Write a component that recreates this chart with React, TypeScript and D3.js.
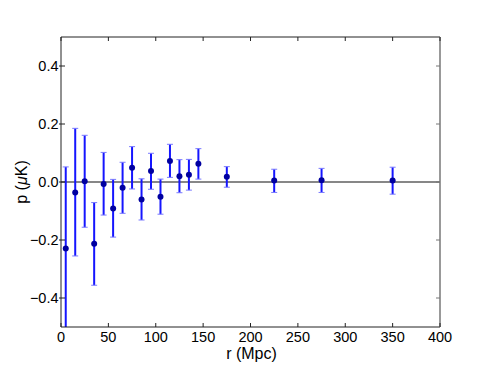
import React, { useEffect, useRef } from 'react'
import * as d3 from 'd3'

const rValues = [5, 15, 25, 35, 45, 55, 65, 75, 85, 95, 105, 115, 125, 135, 145, 175, 225, 275, 350]
const pValues = [-0.229, -0.036, 0.003, -0.213, -0.007, -0.091, -0.020, 0.049, -0.060, 0.038, -0.051, 0.072, 0.020, 0.025, 0.063, 0.018, 0.005, 0.006, 0.005]
const pUpper = [0.052, 0.185, 0.161, -0.071, 0.102, 0.009, 0.068, 0.122, 0.011, 0.099, 0.010, 0.130, 0.077, 0.078, 0.115, 0.053, 0.044, 0.047, 0.051]
const pLower = [-0.62, -0.255, -0.156, -0.356, -0.114, -0.190, -0.108, -0.024, -0.131, -0.025, -0.111, 0.016, -0.037, -0.028, 0.010, -0.018, -0.036, -0.036, -0.042]
const xTicks = [0, 50, 100, 150, 200, 250, 300, 350, 400]
const yTicks = [-0.4, -0.2, 0.0, 0.2, 0.4]

export default function App() {
	const ref = useRef<SVGSVGElement>(null)

	useEffect(() => {
		const svg = d3.select(ref.current)
		svg.selectAll('*').remove()

		const margin = { top: 37, left: 61, right: 50, bottom: 38 }
		const width = 490
		const height = 365
		const innerW = width - margin.left - margin.right
		const innerH = height - margin.top - margin.bottom

		const x = d3.scaleLinear().domain([0, 400]).range([margin.left, margin.left + innerW])
		const y = d3.scaleLinear().domain([-0.5, 0.5]).range([margin.top + innerH, margin.top])

		const font = 'Liberation Sans, Arial, sans-serif'

		const clipId = 'plot-clip'
		svg.append('clipPath').attr('id', clipId)
			.append('rect')
			.attr('x', margin.left).attr('y', margin.top)
			.attr('width', innerW).attr('height', innerH)

		// zero line
		svg.append('line')
			.attr('x1', x(0)).attr('x2', x(400))
			.attr('y1', y(0)).attr('y2', y(0))
			.attr('stroke', '#111').attr('stroke-width', 1.2)

		const data = rValues.map((r, i) => ({ r, p: pValues[i], hi: pUpper[i], lo: pLower[i] }))
		const g = svg.append('g').attr('clip-path', `url(#${clipId})`)

		g.selectAll('line.err')
			.data(data)
			.enter()
			.append('line')
			.attr('class', 'err')
			.attr('x1', d => x(d.r)).attr('x2', d => x(d.r))
			.attr('y1', d => y(d.hi)).attr('y2', d => y(d.lo))
			.attr('stroke', '#1515ff').attr('stroke-width', 2)

		g.selectAll('line.capHi')
			.data(data)
			.enter()
			.append('line')
			.attr('x1', d => x(d.r) - 3).attr('x2', d => x(d.r) + 3)
			.attr('y1', d => y(d.hi)).attr('y2', d => y(d.hi))
			.attr('stroke', '#7878ff').attr('stroke-width', 1)

		g.selectAll('line.capLo')
			.data(data)
			.enter()
			.append('line')
			.attr('x1', d => x(d.r) - 3).attr('x2', d => x(d.r) + 3)
			.attr('y1', d => y(d.lo)).attr('y2', d => y(d.lo))
			.attr('stroke', '#7878ff').attr('stroke-width', 1)

		g.selectAll('circle')
			.data(data)
			.enter()
			.append('circle')
			.attr('cx', d => x(d.r)).attr('cy', d => y(d.p))
			.attr('r', 3)
			.attr('fill', '#0000a0')

		// frame
		const x0 = x(0), x1 = x(400), y0 = y(-0.5), y1 = y(0.5)
		svg.append('line').attr('x1', x0).attr('x2', x1).attr('y1', y1).attr('y2', y1).attr('stroke', '#222')
		svg.append('line').attr('x1', x0).attr('x2', x1).attr('y1', y0).attr('y2', y0).attr('stroke', '#222')
		svg.append('line').attr('x1', x0).attr('x2', x0).attr('y1', y1).attr('y2', y0).attr('stroke', '#222')
		svg.append('line').attr('x1', x1).attr('x2', x1).attr('y1', y1).attr('y2', y0).attr('stroke', '#777').attr('stroke-width', 1.5)

		// ticks (inward)
		xTicks.forEach(t => {
			svg.append('line').attr('x1', x(t)).attr('x2', x(t)).attr('y1', y0).attr('y2', y0 - 4).attr('stroke', '#222')
			svg.append('line').attr('x1', x(t)).attr('x2', x(t)).attr('y1', y1).attr('y2', y1 + 4).attr('stroke', '#222')
			svg.append('text')
				.attr('x', x(t)).attr('y', y0 + 15)
				.attr('text-anchor', 'middle')
				.attr('font-family', font).attr('font-size', 14.5)
				.text(String(t))
		})

		yTicks.forEach(t => {
			svg.append('line').attr('x1', x0 - 2).attr('x2', x0 + 4).attr('y1', y(t)).attr('y2', y(t)).attr('stroke', '#222')
			svg.append('line').attr('x1', x1).attr('x2', x1 - 4).attr('y1', y(t)).attr('y2', y(t)).attr('stroke', '#777')
			svg.append('text')
				.attr('x', x0 - 2.5).attr('y', y(t) + 5)
				.attr('text-anchor', 'end')
				.attr('font-family', font).attr('font-size', 14.5)
				.text(t < 0 ? '\u2212' + Math.abs(t).toFixed(1) : t.toFixed(1))
		})

		svg.append('text')
			.attr('x', (x0 + x1) / 2 + 1).attr('y', 358.5)
			.attr('text-anchor', 'middle')
			.attr('font-family', font).attr('font-size', 16)
			.text('r (Mpc)')

		const yl = svg.append('text')
			.attr('transform', `translate(27, ${(y0 + y1) / 2}) rotate(-90)`)
			.attr('text-anchor', 'middle')
			.attr('font-family', font).attr('font-size', 16)
		yl.append('tspan').text('p (')
		yl.append('tspan').attr('font-style', 'italic').text('\u03bc')
		yl.append('tspan').text('K)')
	}, [])

	return (
		<svg ref={ref} width={490} height={365}
			style={{ position: 'absolute', left: 0, top: 0, background: '#fff' }} />
	)
}
